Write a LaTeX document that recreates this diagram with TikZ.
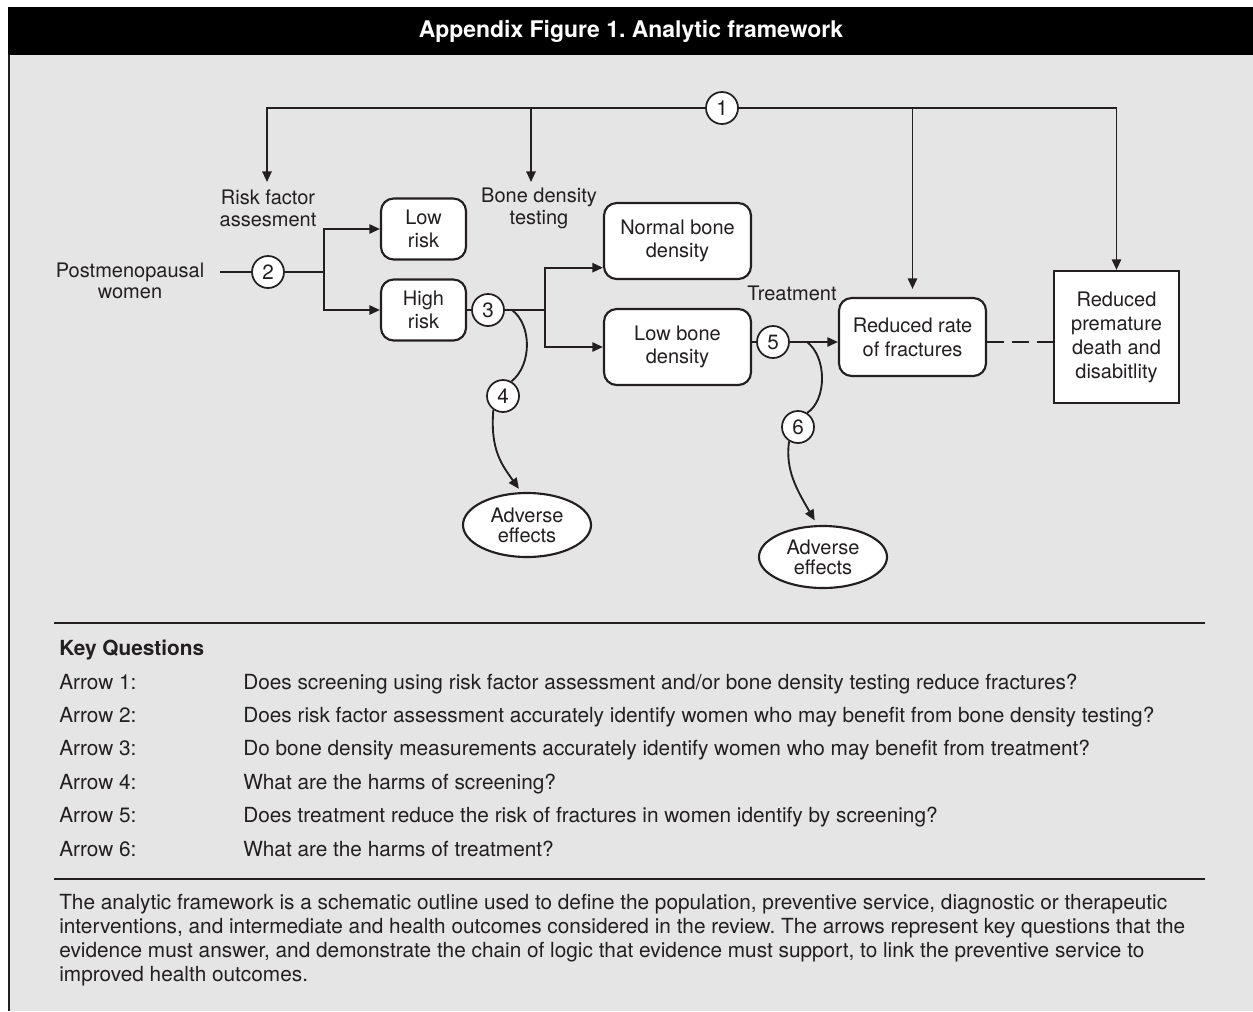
\documentclass[tikz,border=0pt]{standalone}
\usepackage{fontspec}
\setmainfont{TeX Gyre Heros}
\usetikzlibrary{arrows.meta,shapes.geometric,calc}
\definecolor{ink}{HTML}{231F20}
\definecolor{panel}{HTML}{E5E5E5}
\frenchspacing
\begin{document}
\begin{tikzpicture}[x=0.75pt,y=-0.75pt,
  every node/.style={font=\fontsize{15pt}{17pt}\selectfont, text=ink},
  rbox/.style={draw=ink, fill=white, line width=1.6pt, rounded corners=9.5pt, align=center, inner sep=0pt},
  sbox/.style={draw=ink, fill=white, line width=1.6pt, align=center, inner sep=0pt},
  num/.style={circle, draw=ink, fill=white, line width=1.3pt, minimum size=24pt, inner sep=0pt, font=\fontsize{15.5pt}{17pt}\selectfont},
  oval/.style={ellipse, draw=ink, fill=white, line width=1.6pt, minimum width=96pt, inner sep=0pt, align=center},
  conn/.style={draw=ink, line width=1.4pt},
  arr/.style={conn, -{Triangle[length=8pt,width=7pt]}},
  lbl/.style={align=center, inner sep=0pt},
  txt/.style={anchor=base west, inner sep=0pt, font=\fontsize{15.6pt}{18pt}\selectfont},
  rule/.style={draw=ink, line width=1.3pt}
]
\useasboundingbox (0,0) rectangle (1253,1011);
\fill[white] (0,0) rectangle (1253,1011);
\fill[panel] (8,55) rectangle (1253,1011);
\fill[black] (8,7) rectangle (1253,55);
\draw[ink, line width=1.3pt] (9,55) -- (9,1011);
\node[text=white, font=\fontsize{17.2pt}{20pt}\selectfont\bfseries, anchor=base, inner sep=0pt] (title) at (631,37) {Appendix Figure 1. Analytic framework};

% boxes
\node[rbox, minimum width=63.75pt, minimum height=45.75pt] (low) at (423.5,229) {Low\\risk};
\node[rbox, minimum width=63.75pt, minimum height=45.75pt] (high) at (423.5,310) {High\\risk};
\node[rbox, minimum width=110.25pt, minimum height=57pt] (normal) at (677.5,241) {Normal bone\\density};
\node[rbox, minimum width=110.25pt, minimum height=57pt] (lowbd) at (677.5,347) {Low bone\\density};
\node[rbox, minimum width=110.25pt, minimum height=58.5pt, font=\fontsize{15pt}{18pt}\selectfont] (rrf) at (912.5,337) {Reduced rate\\of fractures};
\node[sbox, minimum width=93.75pt, minimum height=99pt, font=\fontsize{15pt}{18pt}\selectfont] (rpd) at (1116.5,337) {Reduced\\premature\\death and\\disabitlity};
\node[oval, minimum height=48pt, font=\fontsize{15pt}{15pt}\selectfont] (ae1) at (527,525) {Adverse\\effects};
\node[oval, minimum height=46.5pt, font=\fontsize{15pt}{15pt}\selectfont] (ae2) at (823,557) {Adverse\\effects};

% labels
\node[lbl, font=\fontsize{15pt}{16pt}\selectfont] (post) at (130,281) {Postmenopausal\\women};
\node[lbl, font=\fontsize{15pt}{16.5pt}\selectfont] (rfa) at (268,208) {Risk factor\\assesment};
\node[lbl, font=\fontsize{15pt}{16.5pt}\selectfont] (bdt) at (539,208) {Bone density\\testing};
\node[lbl] (treat) at (792,293) {Treatment};

% numbered circles
\node[num] (c1) at (722,108) {1};
\node[num] (c2) at (268,272) {2};
\node[num] (c3) at (488,310) {3};
\node[num] (c4) at (503,396) {4};
\node[num] (c5) at (773,342) {5};
\node[num] (c6) at (798,427) {6};

% helper coordinates
\coordinate (a1) at (267,182);
\coordinate (a2) at (531,182);
\coordinate (j2) at (324,272);
\coordinate (j3) at (545,310);
\coordinate (s4) at (512,310);
\coordinate (s6) at (807,342);

% arrow 1
\draw[arr] (c1.west) -| (a1);
\draw[arr] (c1.west) -| (a2);
\draw[arr] (c1.east) -| ([yshift=6pt]rrf.north);
\draw[arr] (c1.east) -| (rpd.north);

% arrow 2
\draw[conn, shorten <=12pt] (post.east |- c2) -- (c2.west);
\draw[conn] (c2.east) -- (j2);
\draw[arr] (j2) |- (low.west);
\draw[arr] (j2) |- (high.west);

% arrow 3
\draw[conn] (high.east) -- (c3.west);
\draw[conn] (c3.east) -- (j3);
\draw[arr] (j3) |- ([yshift=-20pt]normal.west);
\draw[arr] (j3) |- (lowbd.west);

% arrow 5
\draw[conn] (lowbd.east |- c5) -- (c5.west);
\draw[arr] (c5.east) -- (rrf.west |- c5);
\draw[conn, dash pattern=on 12.75pt off 6pt] (rrf.east |- c5) -- (rpd.west |- c5);

% arrow 4
\draw[conn] (s4) .. controls (532,325) and (532,365) .. (c4.60);
\draw[arr, shorten >=3pt] (c4.235) .. controls (490,450) and (502,465) .. (ae1.100);

% arrow 6
\draw[conn] (s6) .. controls (827,357) and (827,400) .. (c6.57);
\draw[arr, shorten >=4pt] (c6.238) .. controls (785,470) and (797,490) .. (ae2.100);

% key questions
\draw[rule] (54,623) -- (1205,623);
\node[txt, font=\fontsize{15.6pt}{18pt}\selectfont\bfseries] (kq) at (59,655) {Key Questions};
\node[txt] (r1) at (59,689) {Arrow 1:};
\node[txt] (q1) at (243,689) {Does screening using risk factor assessment and/or bone density testing reduce fractures?};
\node[txt] (r2) at (59,722.4) {Arrow 2:};
\node[txt] (q2) at (243,722.4) {Does risk factor assessment accurately identify women who may benefit from bone density testing?};
\node[txt] (r3) at (59,755.8) {Arrow 3:};
\node[txt] (q3) at (243,755.8) {Do bone density measurements accurately identify women who may benefit from treatment?};
\node[txt] (r4) at (59,789.2) {Arrow 4:};
\node[txt] (q4) at (243,789.2) {What are the harms of screening?};
\node[txt] (r5) at (59,822.6) {Arrow 5:};
\node[txt] (q5) at (243,822.6) {Does treatment reduce the risk of fractures in women identify by screening?};
\node[txt] (r6) at (59,856) {Arrow 6:};
\node[txt] (q6) at (243,856) {What are the harms of treatment?};

\draw[rule] (54,879) -- (1205,879);
\node[txt] (p1) at (59,909) {The analytic framework is a schematic outline used to define the population, preventive service, diagnostic or therapeutic};
\node[txt] (p2) at (59,933) {interventions, and intermediate and health outcomes considered in the review. The arrows represent key questions that the};
\node[txt] (p3) at (59,957) {evidence must answer, and demonstrate the chain of logic that evidence must support, to link the preventive service to};
\node[txt] (p4) at (59,981) {improved health outcomes.};
\end{tikzpicture}
\end{document}
